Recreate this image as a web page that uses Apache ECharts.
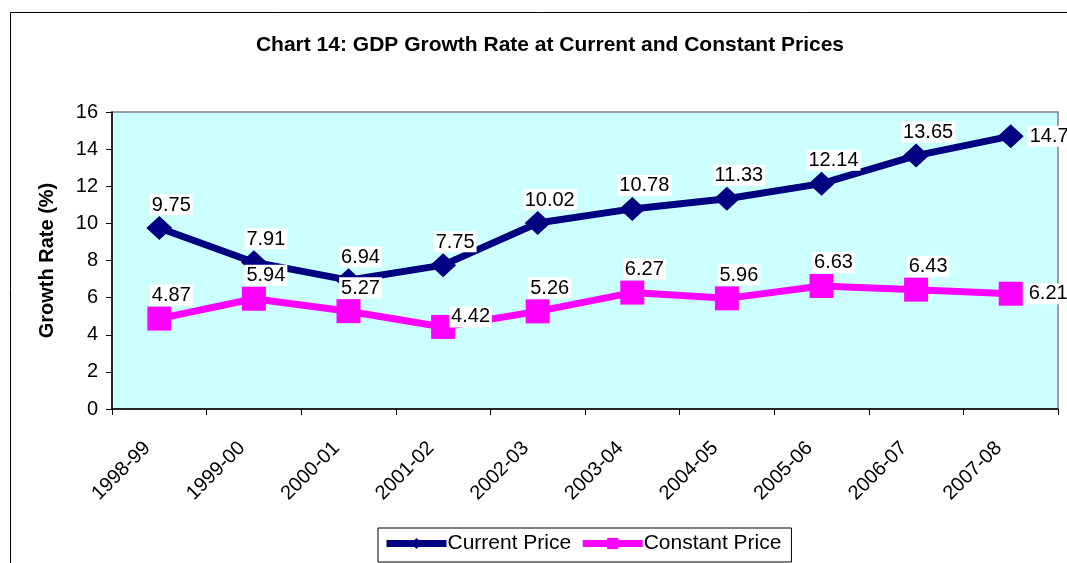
<!DOCTYPE html>
<html>
<head>
<meta charset="utf-8">
<script src="https://cdn.jsdelivr.net/npm/echarts@6/dist/echarts.min.js"></script>
<style>
  html, body { margin: 0; padding: 0; background: #ffffff; }
  #chart { width: 1067px; height: 563px; }
</style>
</head>
<body>
<div id="chart"></div>
<script>
// data
const years = ["1998-99", "1999-00", "2000-01", "2001-02", "2002-03",
  "2003-04", "2004-05", "2005-06", "2006-07", "2007-08"];
const currentPrice = [9.75, 7.91, 6.94, 7.75, 10.02, 10.78, 11.33, 12.14, 13.65, 14.7];
const constantPrice = [4.87, 5.94, 5.27, 4.42, 5.26, 6.27, 5.96, 6.63, 6.43, 6.21];

const font = "Arial, 'Liberation Sans', sans-serif";

// labels sit above-right of the points, the last one to the right
function withLabels(values, special) {
  return values.map((v, i) => {
    let item = { value: v };
    if (special[i]) item.label = special[i];
    return item;
  });
}

const labelBase = {
  show: true,
  position: "top",
  offset: [12, -1],
  distance: 0,
  color: "#000",
  fontSize: 20,
  fontFamily: font,
  backgroundColor: "#ffffff",
  padding: [1, 2, 0, 2],
};

let myChart = echarts.init(document.getElementById("chart"));

let option = {
  animation: false,
  backgroundColor: "#ffffff",
  title: {
    text: "Chart 14: GDP Growth Rate at Current and Constant Prices",
    left: 545,
    top: 30,
    textAlign: "center",
    textStyle: {
      fontFamily: font,
      fontSize: 21,
      fontWeight: "bold",
      color: "#000",
    },
  },
  graphic: [
    {
      type: "rect",
      shape: { x: 10.5, y: 12.5, width: 1100, height: 600 },
      style: { fill: null, stroke: "#000", lineWidth: 1 },
      silent: true,
      z: -1,
    },
  ],
  legend: {
    left: 378,
    top: 528,
    itemWidth: 60,
    itemHeight: 14,
    itemGap: 8,
    padding: [5, 10, 8, 5],
    borderColor: "#000",
    borderWidth: 1,
    backgroundColor: "#ffffff",
    lineStyle: { width: 7 },
    textStyle: { fontFamily: font, fontSize: 21, color: "#000", padding: [0, 0, 0, -4] },
    data: ["Current Price", "Constant Price"],
  },
  grid: {
    left: 112,
    top: 112,
    right: 9,
    bottom: 154,
    show: true,
    backgroundColor: "#CCFFFF",
    borderColor: "#808080",
    borderWidth: 1.5,
  },
  xAxis: {
    type: "category",
    data: years,
    boundaryGap: true,
    axisLine: { show: true, lineStyle: { color: "#000", width: 1.5 } },
    axisTick: { show: true, length: 6, alignWithLabel: false, lineStyle: { color: "#000" } },
    axisLabel: {
      rotate: 45,
      margin: 24,
      interval: 0,
      color: "#000",
      fontSize: 20,
      fontFamily: font,
      padding: [0, 17, 0, 0],
    },
  },
  yAxis: {
    type: "value",
    min: 0,
    max: 16,
    interval: 2,
    name: "Growth Rate (%)",
    nameLocation: "middle",
    nameGap: 55,
    nameTextStyle: { fontFamily: font, fontSize: 20, fontWeight: "bold", color: "#000" },
    axisLine: { show: true, lineStyle: { color: "#000", width: 1.5 } },
    axisTick: { show: true, length: 6, lineStyle: { color: "#000" } },
    splitLine: { show: false },
    axisLabel: { color: "#000", fontSize: 20, fontFamily: font, margin: 14 },
  },
  series: [
    {
      name: "Current Price",
      type: "line",
      data: withLabels(currentPrice, {
        9: { position: "right", offset: [0, 0], distance: 4 },
      }),
      symbol: "diamond",
      symbolSize: [26, 24],
      lineStyle: { color: "#000080", width: 7 },
      itemStyle: { color: "#000080" },
      label: labelBase,
      z: 2,
    },
    {
      name: "Constant Price",
      type: "line",
      data: withLabels(constantPrice, {
        3: { position: "right", offset: [-10, -10], distance: 4 },
        9: { position: "right", offset: [0, 0], distance: 4 },
      }),
      symbol: "rect",
      symbolSize: 24,
      lineStyle: { color: "#FF00FF", width: 7 },
      itemStyle: { color: "#FF00FF" },
      label: labelBase,
      z: 3,
    },
  ],
};

myChart.setOption(option);
</script>
</body>
</html>
